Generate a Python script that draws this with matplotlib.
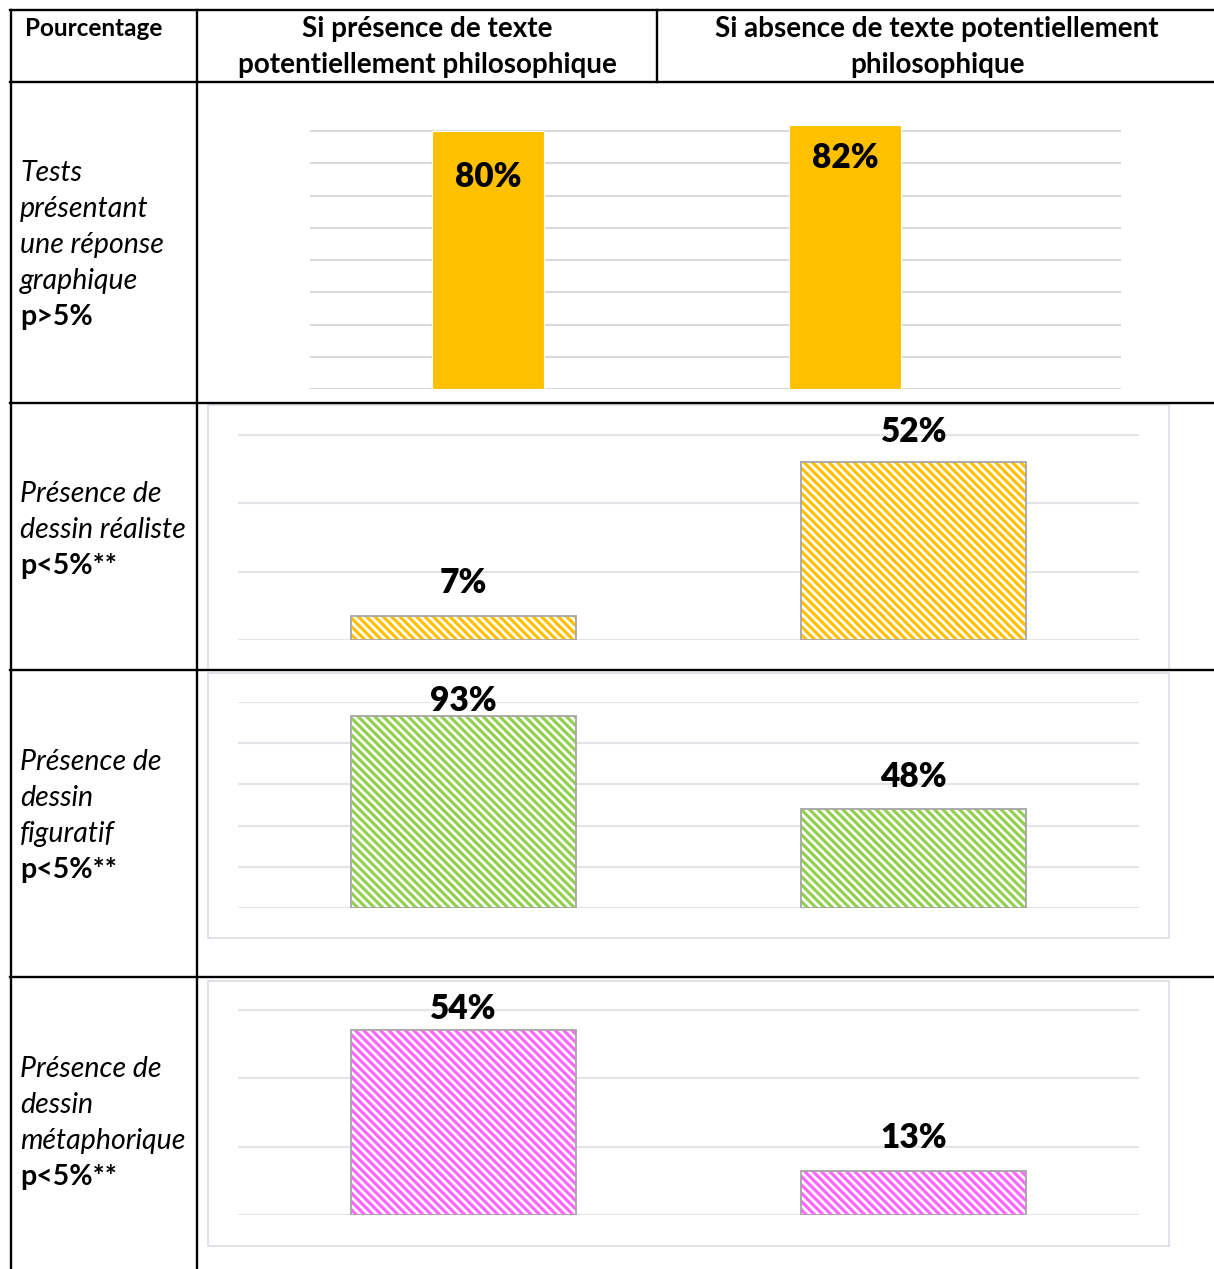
import matplotlib
matplotlib.use("Agg")
import matplotlib.pyplot as plt
from matplotlib.patches import Rectangle
from matplotlib.lines import Line2D

# ---------------- data ----------------
col_headers = ["Si présence de texte\npotentiellement philosophique",
               "Si absence de texte potentiellement\nphilosophique"]
corner_label = "Pourcentage"
row_titles = ["Tests\nprésentant\nune réponse\ngraphique",
              "Présence de\ndessin réaliste",
              "Présence de\ndessin\nfiguratif",
              "Présence de\ndessin\nmétaphorique"]
row_pvalues = ["p>5%", "p<5%**", "p<5%**", "p<5%**"]
categories = ["présence", "absence"]
values_graphique = [80, 82]
values_realiste = [7, 52]
values_figuratif = [93, 48]
values_metaphorique = [54, 13]
colors = ["#FFC000", "#FFC000", "#92D050", "#FF66FF"]

# ---------------- layout ----------------
W, H = 1214, 1269
fig = plt.figure(figsize=(W / 100, H / 100), dpi=100)
plt.rcParams['hatch.linewidth'] = 2.3
FONT = "Lato"
HATCH = "\\" * 4

def frac_rect(x0, y0, x1, y1):
    return [x0 / W, 1 - y1 / H, (x1 - x0) / W, (y1 - y0) / H]

def fx(x):
    return x / W

def fy(y):
    return 1 - y / H

# table lines
lw_tab = 1.7
def hline(y, x0=10, x1=W):
    fig.add_artist(Line2D([fx(x0), fx(x1)], [fy(y), fy(y)], color="black", lw=lw_tab, zorder=5))

def vline(x, y0, y1):
    fig.add_artist(Line2D([fx(x), fx(x)], [fy(y0), fy(y1)], color="black", lw=lw_tab, zorder=5))

for y in [10, 82, 403, 670, 977]:
    hline(y)
vline(11, 10, H)
vline(197, 10, H)
vline(657, 10, 82)

# header texts
fig.text(fx(25), fy(28), corner_label, fontsize=17.5, fontweight="bold", family=FONT,
         ha="left", va="center")
for txt, cx in zip(col_headers, [427, 937]):
    for i, ln in enumerate(txt.split("\n")):
        fig.text(fx(cx), fy(29 + 36 * i), ln, fontsize=20, fontweight="bold", family=FONT,
                 ha="center", va="center")

# row labels
row_first_y = [173, 494, 762, 1069]
line_h = 36
for title, pv, y0 in zip(row_titles, row_pvalues, row_first_y):
    lines = title.split("\n")
    for i, ln in enumerate(lines):
        fig.text(fx(20), fy(y0 + i * line_h), ln, fontsize=20.5, style="italic",
                 family=FONT, ha="left", va="center")
    fig.text(fx(20), fy(y0 + len(lines) * line_h), pv, fontsize=20.5, fontweight="bold",
             family=FONT, ha="left", va="center")

# chart frames for rows 2-4
for (y0, y1) in [(405, 670), (673, 938), (981, 1246)]:
    fig.add_artist(Rectangle((fx(208), fy(y1)), fx(1169) - fx(208), fy(y0) - fy(y1),
                             transform=fig.transFigure, facecolor="none",
                             edgecolor="#DCE0E6", lw=1.3, zorder=1))

# chart specs: (values, color, ax box, ylim, yticks, xlim, bar width, hatch, grid color, label offsets px)
charts = [
    (values_graphique, colors[0], (309.5, 389 - 85 * 3.225, 1121, 389), 85, range(0, 81, 10),
     (-0.5, 1.773), 0.314, None, "#D9D9D9", [-46, -33]),
    (values_realiste, colors[1], (238, 640 - 65 * 3.42, 1139, 640), 65, range(0, 61, 20),
     (-0.5, 1.5), 0.5, HATCH, "#E1E5EA", [33, 30]),
    (values_figuratif, colors[2], (238, 702, 1139, 908), 100, range(0, 101, 20),
     (-0.5, 1.5), 0.5, HATCH, "#E1E5EA", [15, 32]),
    (values_metaphorique, colors[3], (238, 1215 - 65 * 3.42, 1139, 1215), 65, range(0, 61, 20),
     (-0.5, 1.5), 0.5, HATCH, "#E1E5EA", [21, 33]),
]

for vals, col, box, ymax, yt, xl, bw, hatch, gcol, offs in charts:
    ax = fig.add_axes(frac_rect(*box))
    ax.set_xlim(*xl)
    ax.set_ylim(0, ymax)
    ax.patch.set_alpha(0)
    for s in ax.spines.values():
        s.set_visible(False)
    ax.set_yticks(list(yt))
    ax.set_xticks([])
    ax.tick_params(left=False, labelleft=False)
    ax.yaxis.grid(True, color=gcol, lw=1.5)
    ax.set_axisbelow(True)
    x = list(range(len(vals)))
    if hatch is None:
        ax.bar(x, vals, width=bw, color=col, edgecolor="white", lw=0.8, zorder=2)
    else:
        ax.bar(x, vals, width=bw, facecolor="white", edgecolor=col, hatch=hatch, lw=0, zorder=2)
        ax.bar(x, vals, width=bw, facecolor="none", edgecolor="#A6A6A6", lw=1.3, zorder=3)
    for xi, v, off in zip(x, vals, offs):
        ax.annotate(f"{v}%", xy=(xi, v), xytext=(0, off * 0.72), textcoords="offset points",
                    ha="center", va="center", fontsize=24, fontweight="heavy", family=FONT,
                    annotation_clip=False, zorder=4)

fig.savefig("out.png", dpi=100, facecolor="white")
